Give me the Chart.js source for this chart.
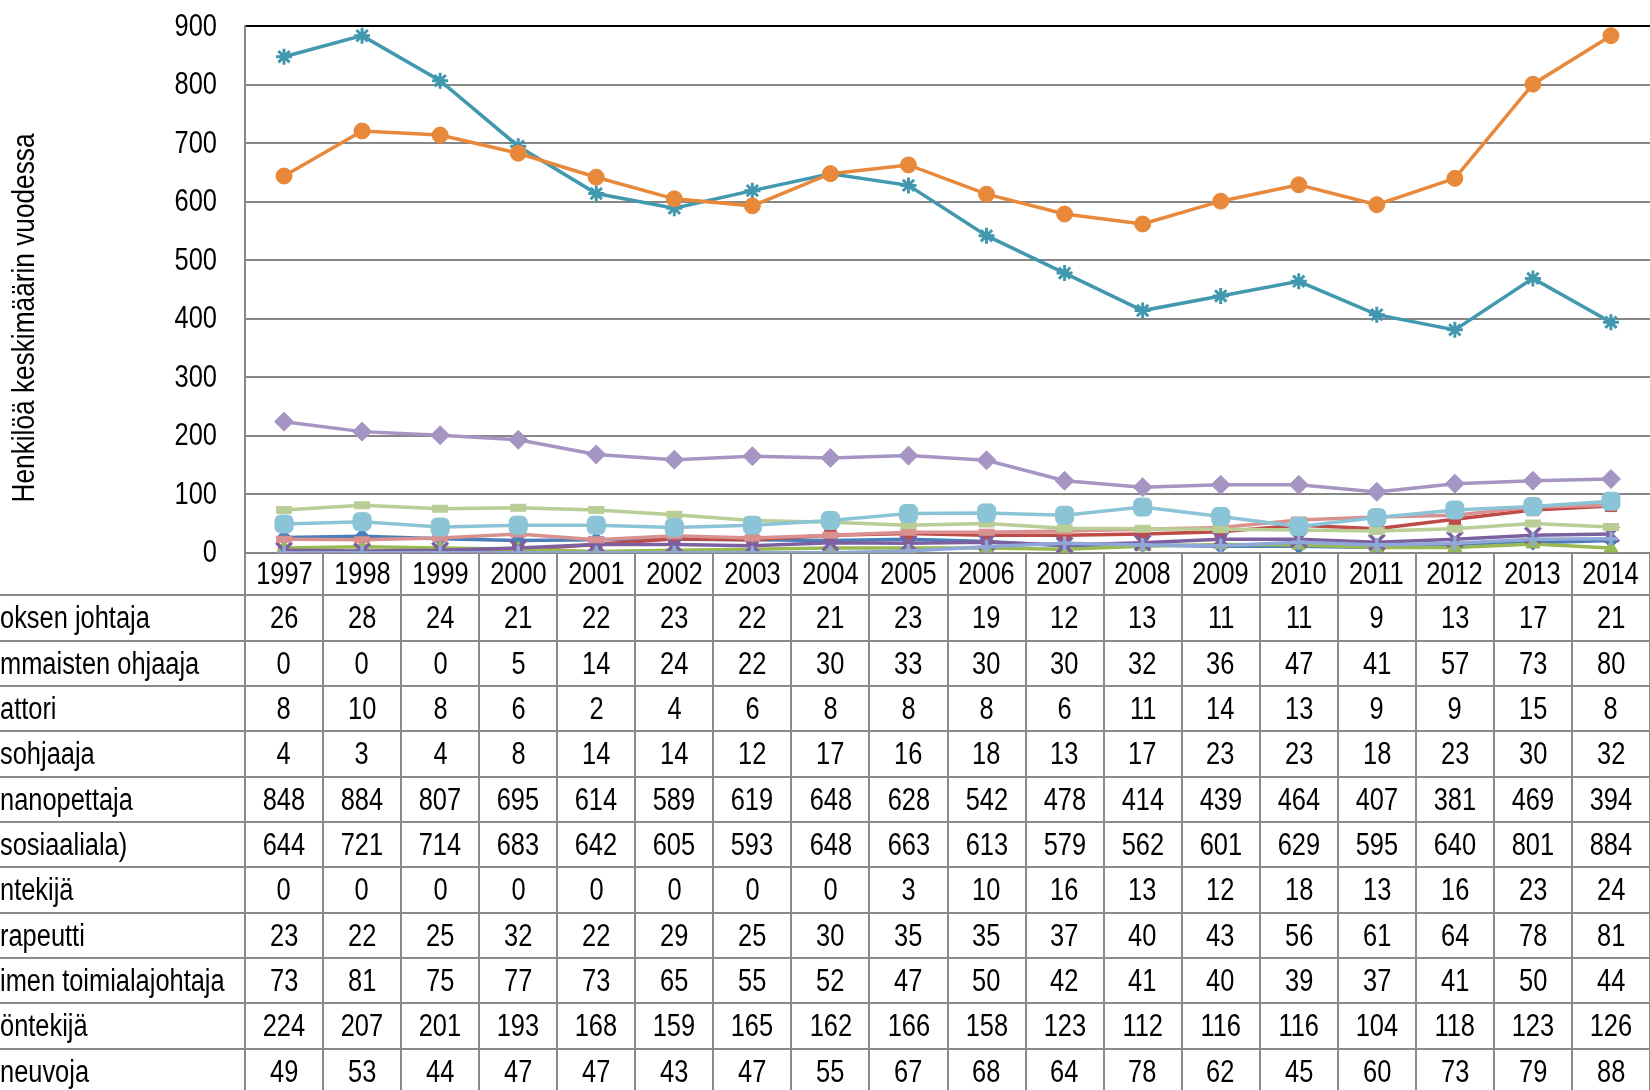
<!DOCTYPE html>
<html><head><meta charset="utf-8">
<script src="https://cdn.jsdelivr.net/npm/chart.js@4.4.0/dist/chart.umd.min.js"></script>
<style>
html,body{margin:0;padding:0;background:#fff;}
#wrap{position:relative;width:1650px;height:1090px;overflow:hidden;background:#fff;font-family:"Liberation Sans","Arial",sans-serif;}
#c{position:absolute;left:0;top:0;}
.ln{position:absolute;background:#8a8a8a;}
.cell{position:absolute;text-align:center;font-size:31px;color:#000;white-space:nowrap;}
.cell span{display:inline-block;transform:scaleX(0.82);transform-origin:center center;}
.lab{position:absolute;font-size:31px;color:#000;white-space:nowrap;transform:scaleX(0.82);transform-origin:left center;}
</style></head>
<body><div id="wrap"><canvas id="c" width="1650" height="600"></canvas><div id="tbl"></div></div>
<script>
const years = ['1997','1998','1999','2000','2001','2002','2003','2004','2005','2006','2007','2008','2009','2010','2011','2012','2013','2014'];
const yAxisTitle = 'Henkilöä keskimäärin vuodessa';
const yTicks = [0,100,200,300,400,500,600,700,800,900];
const rowLabels = ['oksen johtaja','mmaisten ohjaaja','attori','sohjaaja','nanopettaja','sosiaaliala)','ntekijä','rapeutti','imen toimialajohtaja','öntekijä','neuvoja'];
const s1 = [26,28,24,21,22,23,22,21,23,19,12,13,11,11,9,13,17,21];
const s2 = [0,0,0,5,14,24,22,30,33,30,30,32,36,47,41,57,73,80];
const s3 = [8,10,8,6,2,4,6,8,8,8,6,11,14,13,9,9,15,8];
const s4 = [4,3,4,8,14,14,12,17,16,18,13,17,23,23,18,23,30,32];
const s5 = [848,884,807,695,614,589,619,648,628,542,478,414,439,464,407,381,469,394];
const s6 = [644,721,714,683,642,605,593,648,663,613,579,562,601,629,595,640,801,884];
const s7 = [0,0,0,0,0,0,0,0,3,10,16,13,12,18,13,16,23,24];
const s8 = [23,22,25,32,22,29,25,30,35,35,37,40,43,56,61,64,78,81];
const s9 = [73,81,75,77,73,65,55,52,47,50,42,41,40,39,37,41,50,44];
const s10 = [224,207,201,193,168,159,165,162,166,158,123,112,116,116,104,118,123,126];
const s11 = [49,53,44,47,47,43,47,55,67,68,64,78,62,45,60,73,79,88];
const seriesValues = [s1,s2,s3,s4,s5,s6,s7,s8,s9,s10,s11];

// styles (kept separate from data)
const colors = ['#4A7EBB','#BE4B48','#98B954','#7D60A0','#4198AF','#E8883A','#8FA8D8','#D9918F','#B9CD96','#A694C3','#8AC4D6'];
const pStyles = ['rectRot','rect','triangle','crossRot','star','circle','cross','line','line','rectRot','rectRounded'];
const pRadius = [7.5,8,8,11,8,8,7,8,8,9.5,10.5];
const pBorder = [1,1,1,3.5,3,1,3.5,7,8,1,1];
const FONT = '"Liberation Sans", Arial, sans-serif';
const SX = 0.82;

const datasets = seriesValues.map((vals,i)=>({
  label: rowLabels[i],
  data: vals,
  borderColor: colors[i],
  backgroundColor: colors[i],
  pointBackgroundColor: colors[i],
  pointBorderColor: colors[i],
  pointStyle: pStyles[i],
  pointRadius: pRadius[i],
  pointBorderWidth: pBorder[i],
  borderWidth: 3.5,
  tension: 0,
  order: seriesValues.length - i
}));

// narrow-style text: y tick labels and y axis title
const textPlugin = {
  id:'narrowText',
  afterDraw(chart){
    const ctx = chart.ctx;
    const ys = chart.scales.y;
    ctx.save();
    ctx.font = '31px ' + FONT;
    ctx.fillStyle = '#000';
    ctx.textAlign = 'right';
    ctx.textBaseline = 'middle';
    yTicks.forEach(v=>{
      ctx.save();
      ctx.translate(217, ys.getPixelForValue(v)+1);
      ctx.scale(SX,1);
      ctx.fillText(String(v),0,0);
      ctx.restore();
    });
    ctx.translate(25,318);
    ctx.rotate(-Math.PI/2);
    ctx.scale(SX,1);
    ctx.font = '32px ' + FONT;
    ctx.textAlign = 'center';
    ctx.fillText(yAxisTitle,0,0);
    ctx.restore();
  }
};

const chart = new Chart(document.getElementById('c'), {
  type:'line',
  data:{labels:years, datasets},
  options:{
    responsive:false,
    animation:false,
    devicePixelRatio:1,
    layout:{autoPadding:false,padding:{top:26.3,bottom:47.3,left:0,right:0}},
    plugins:{legend:{display:false},tooltip:{enabled:false},title:{display:false}},
    scales:{
      x:{type:'category',display:false,offset:true},
      y:{
        min:0,max:900,
        afterBuildTicks(s){ s.ticks = yTicks.map(v=>({value:v})); },
        afterFit(s){ s.width = 245; },
        ticks:{display:false},
        grid:{drawTicks:false,lineWidth:2,color:(c)=> (c.tick && c.tick.value===900) ? '#000' : '#868686'},
        border:{color:'#868686',width:2}
      }
    }
  },
  plugins:[textPlugin]
});

// build the data table from the chart's x scale
(function(){
  const tbl = document.getElementById('tbl');
  const xs = chart.scales.x;
  const area = chart.chartArea;
  const colW = xs.getPixelForValue(1) - xs.getPixelForValue(0);
  const top = area.bottom;
  const headH = 42.6;
  const rowH = 45.35;
  const bottom = 1090;
  const add = (cls, css, txt, wrap) => {
    const d=document.createElement('div'); d.className=cls; Object.assign(d.style,css);
    if(txt!==undefined){ if(wrap){ const s=document.createElement('span'); s.textContent=txt; d.appendChild(s);} else d.textContent=txt; }
    tbl.appendChild(d); return d; };
  add('ln',{left:(area.left-1)+'px',top:top+'px',width:'2px',height:(bottom-top)+'px'});
  years.forEach((y,i)=>{
    const cx = xs.getPixelForValue(i);
    add('ln',{left:(cx+colW/2-1)+'px',top:top+'px',width:'2px',height:(bottom-top)+'px'});
    add('cell',{left:(cx-colW/2)+'px',width:colW+'px',top:top+'px',height:headH+'px',lineHeight:headH+'px'},y,true);
  });
  for(let k=0;k<=rowLabels.length;k++){
    const yy = top+headH+k*rowH;
    add('ln',{left:'0px',top:(yy-1)+'px',width:'1650px',height:'2px'});
  }
  rowLabels.forEach((lab,r)=>{
    const ry = top+headH+r*rowH;
    add('lab',{left:'0px',top:ry+'px',height:rowH+'px',lineHeight:rowH+'px'},lab);
    seriesValues[r].forEach((v,i)=>{
      const cx = xs.getPixelForValue(i);
      add('cell',{left:(cx-colW/2)+'px',width:colW+'px',top:ry+'px',height:rowH+'px',lineHeight:rowH+'px'},String(v),true);
    });
  });
})();
</script>
</body></html>
